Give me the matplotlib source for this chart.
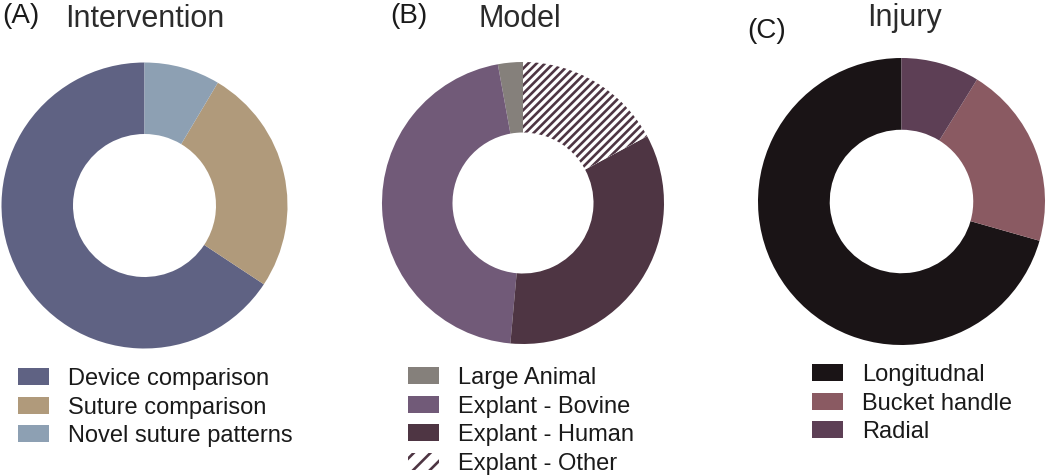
import matplotlib
matplotlib.use("Agg")
import matplotlib.pyplot as plt
from matplotlib.patches import Rectangle

plt.rcParams['font.family'] = ['Liberation Sans', 'DejaVu Sans']
plt.rcParams['hatch.linewidth'] = 1.9

# data (study counts)
interv_labels = ["Device comparison", "Suture comparison", "Novel suture patterns"]
interv_counts = [23, 9, 3]
interv_colors = ["#5f6283", "#b09a7b", "#8da0b3"]

model_labels = ["Large Animal", "Explant - Bovine", "Explant - Human", "Explant - Other"]
model_counts = [1, 16, 12, 6]
model_colors = ["#85807b", "#715a78", "#4e3543", "white"]

injury_labels = ["Longitudnal", "Bucket handle", "Radial"]
injury_counts = [24, 7, 3]
injury_colors = ["#1a1416", "#8a5a62", "#5d3f55"]

W, H = 1050, 475
fig = plt.figure(figsize=(W / 100, H / 100), dpi=100)


def fx(x):
    return x / W


def fy(y):
    return 1 - y / H


def donut(cx, cy, r, counts, colors, hatched=None):
    ax = fig.add_axes([fx(cx - r), fy(cy + r), 2 * r / W, 2 * r / H])
    wedges, _ = ax.pie(counts, colors=colors, startangle=90, counterclock=True,
                       wedgeprops=dict(width=0.5, linewidth=0))
    if hatched is not None:
        w = wedges[hatched]
        w.set_facecolor("white")
        w.set_edgecolor("#4e3543")
        w.set_hatch("////")
        w.set_linewidth(0)
    ax.set_xlim(-1, 1)
    ax.set_ylim(-1, 1)
    ax.set_aspect("equal")
    ax.axis("off")
    return ax


def legend(x, y0, labels, colors, hatched=None, step=28.7):
    for i, (lab, col) in enumerate(zip(labels, colors)):
        top = y0 + i * step
        rect = Rectangle((fx(x), fy(top + 17)), 31 / W, 17 / H,
                         transform=fig.transFigure, facecolor=col, linewidth=0)
        if hatched == i:
            rect.set_facecolor("white")
            rect.set_edgecolor("#4e3543")
            rect.set_hatch("//")
        fig.add_artist(rect)
        fig.text(fx(x + 50), fy(top + 17), lab, fontsize=17, color="#1a1a1a",
                 ha="left", va="baseline")


donut(144.5, 205.5, 143, interv_counts, interv_colors)
donut(523, 203, 141, model_counts, model_colors, hatched=3)
donut(901.5, 201.5, 143.5, injury_counts, injury_colors)

# panel titles
fig.text(fx(145), fy(27), "Intervention", fontsize=22, color="#2b2b2b", ha="center", va="baseline")
fig.text(fx(520), fy(27), "Model", fontsize=22, color="#2b2b2b", ha="center", va="baseline")
fig.text(fx(905), fy(26), "Injury", fontsize=22, color="#2b2b2b", ha="center", va="baseline")

fig.text(fx(2), fy(23), "(A)", fontsize=20, color="#1a1a1a", ha="left", va="baseline")
fig.text(fx(390), fy(23), "(B)", fontsize=20, color="#1a1a1a", ha="left", va="baseline")
fig.text(fx(747), fy(38), "(C)", fontsize=20, color="#1a1a1a", ha="left", va="baseline")

legend(18, 368, interv_labels, interv_colors)
legend(408, 367, model_labels, model_colors, hatched=3)
legend(812, 364, injury_labels, injury_colors)

fig.savefig("out.png", dpi=100)
